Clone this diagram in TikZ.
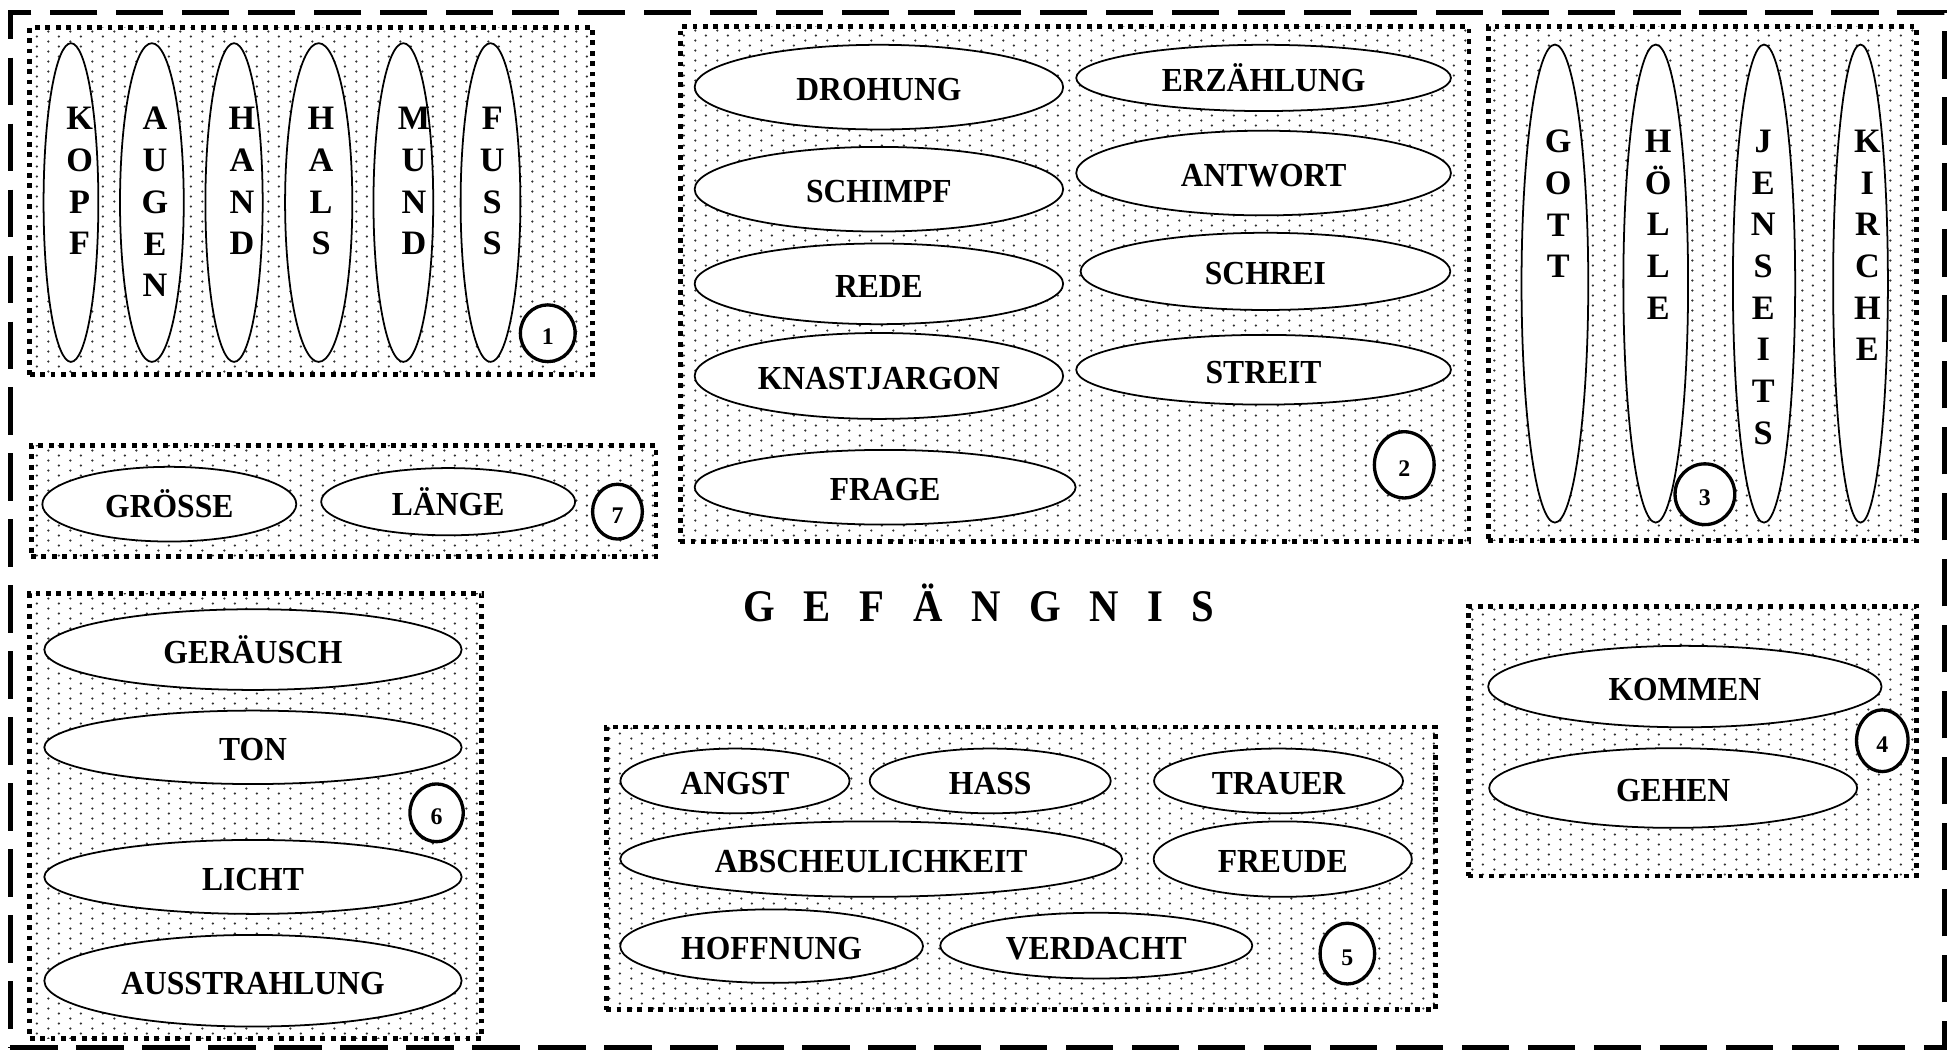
\documentclass[tikz,border=0pt]{standalone}
\usepackage{fontspec}
\usetikzlibrary{shapes.geometric,patterns}
\newfontfamily\labfamily[FakeStretch=0.94]{Liberation Serif}
\newfontfamily\vfamily{Liberation Serif}
\newfontfamily\titlefamily[FakeStretch=0.9]{Liberation Serif}

\pgfdeclarepatternformonly{stip}{\pgfpointorigin}{\pgfpoint{10.4pt}{4.8pt}}{\pgfpoint{10.4pt}{4.8pt}}{%
  \pgfpathcircle{\pgfpoint{2.6pt}{1.2pt}}{0.6pt}%
  \pgfpathcircle{\pgfpoint{7.8pt}{3.6pt}}{0.6pt}%
  \pgfusepath{fill}}

\newcommand\tg{\hspace{13.8pt}}
% box: name, x1, y1, x2, y2
\newcommand\grp[5]{\node[grpbox, minimum width={(#4-#2)*0.6pt}, minimum height={(#5-#3)*0.6pt}] (#1) at ({(#2+#4)/2},{(#3+#5)/2}) {};}
% ellipse: name, cx, cy, rx, ry, text
\newcommand\ovl[6]{\node[oval, minimum width={2*#4*0.6pt}, minimum height={2*#5*0.6pt}] (#1) at (#2,#3) {#6};}
% number circle: name, cx, cy, rx, ry, digit
\newcommand\numc[6]{\node[numcirc, minimum width={2*#4*0.6pt}, minimum height={2*#5*0.6pt}] (#1) at (#2,#3) {#6};}

\begin{document}
\begin{tikzpicture}[x=0.6pt,y=-0.6pt,
  frame/.style={draw, line width=2.4pt, dash pattern=on 22.8pt off 9pt, inner sep=0, outer sep=0},
  grpbox/.style={draw, line width=2.3pt, dash pattern=on 2.3pt off 2.7pt, pattern=stip, pattern color=black!80, inner sep=0, outer sep=0},
  oval/.style={ellipse, draw, fill=white, line width=0.85pt, inner sep=0,
    font={\labfamily\bfseries\fontsize{16.2}{19}\selectfont}, text height=13.1pt, text depth=0pt},
  numcirc/.style={ellipse, draw, fill=white, line width=1.6pt, inner sep=0,
    font={\vfamily\bfseries\fontsize{11.5}{13}\selectfont}, text height=11pt, text depth=0pt},
  vtxt/.style={align=center, inner sep=0, anchor=north,
    font={\vfamily\bfseries\fontsize{16.5}{20.1}\selectfont}},
  titletxt/.style={inner sep=0, anchor=base, font={\titlefamily\bfseries\fontsize{21.8}{24}\selectfont}}
]
\useasboundingbox (0,0) rectangle (1568,844);

% outer frame
\node[frame, minimum width={1553.6*0.6pt}, minimum height={831.5*0.6pt}] (prison) at (785.2,425.75) {};

% group boxes
\grp{box1}{24}{22}{476}{301}
\grp{box2}{546.5}{21.6}{1180}{435}
\grp{box3}{1195.4}{21.5}{1539.5}{434}
\grp{box4}{1179.4}{487.3}{1539.5}{703.6}
\grp{box5}{487}{584}{1153}{811}
\grp{box6}{24}{476.6}{387}{834}
\grp{box7}{25}{358}{527}{447}

% box 1: body parts
\ovl{kopf}{57}{162.7}{22}{128}{}
\ovl{augen}{122}{162.7}{25.6}{128}{}
\ovl{hand}{188}{162.7}{23}{128}{}
\ovl{hals}{256}{162.7}{27}{128}{}
\ovl{mund}{324}{162.7}{24}{128}{}
\ovl{fuss}{394}{162.7}{24}{128}{}
\node[vtxt] (kopft) at (64,85.9) {K\\O\\P\\F};
\node[vtxt] (augent) at (124.5,85.9) {A\\U\\G\\E\\N};
\node[vtxt] (handt) at (194.3,85.9) {H\\A\\N\\D};
\node[vtxt] (halst) at (257.9,85.9) {H\\A\\L\\S};
\node[vtxt] (mundt) at (332.5,85.9) {M\\U\\N\\D};
\node[vtxt] (fusst) at (395.4,85.9) {F\\U\\S\\S};
\numc{num1}{440}{267.7}{22}{22.8}{1}

% box 2: speech
\ovl{drohung}{706}{70}{148}{34}{DROHUNG}
\ovl{erzaehlung}{1015}{62.6}{150.5}{26.6}{ERZÄHLUNG}
\ovl{schimpf}{706}{152}{148}{34}{SCHIMPF}
\ovl{antwort}{1015}{139}{150.5}{34}{ANTWORT}
\ovl{rede}{706}{228}{148}{32.4}{REDE}
\ovl{schrei}{1016.5}{218}{148.5}{31}{SCHREI}
\ovl{knast}{706}{302}{148}{34.5}{KNASTJARGON}
\ovl{streit}{1015}{297}{150.5}{28}{STREIT}
\ovl{frage}{711}{391.4}{153}{30}{FRAGE}
\numc{num2}{1128}{373.4}{24}{26.6}{2}

% box 3: religion
\ovl{gott}{1249}{227.8}{26.8}{192}{}
\ovl{hoelle}{1330}{227.8}{26}{192}{}
\ovl{jenseits}{1417}{227.8}{25}{192}{}
\ovl{kirche}{1494.5}{227.8}{22}{192}{}
\node[vtxt] (gottt) at (1251.7,104.1) {G\\O\\T\\T};
\node[vtxt] (hoellet) at (1332,104.1) {H\\Ö\\L\\L\\E};
\node[vtxt] (jenseitst) at (1416.3,104.1) {J\\E\\N\\S\\E\\I\\T\\S};
\node[vtxt] (kirchet) at (1500,104.1) {K\\I\\R\\C\\H\\E};
\numc{num3}{1369.5}{397}{24}{24.4}{3}

% box 4: movement
\ovl{kommen}{1353.4}{551.5}{158}{32.7}{KOMMEN}
\ovl{gehen}{1344}{633}{147.8}{32}{GEHEN}
\numc{num4}{1512}{595}{20.7}{24.8}{4}

% box 5: feelings
\ovl{angst}{590.4}{627.3}{92}{26}{ANGST}
\ovl{hass}{795.4}{627.3}{96.8}{26}{HASS}
\ovl{trauer}{1027}{627.3}{100}{26}{TRAUER}
\ovl{abscheu}{699.8}{690.1}{201.6}{30.3}{ABSCHEULICHKEIT}
\ovl{freude}{1030.4}{690.1}{103.7}{30.3}{FREUDE}
\ovl{hoffnung}{619.8}{760}{121.6}{29.5}{HOFFNUNG}
\ovl{verdacht}{880.6}{759.6}{125.3}{26.4}{VERDACHT}
\numc{num5}{1082.3}{766}{21.9}{24.4}{5}

% box 6: perception
\ovl{geraeusch}{203.2}{521.8}{167.6}{32.4}{GERÄUSCH}
\ovl{ton}{203.2}{600.3}{167.6}{29.5}{TON}
\ovl{licht}{203.2}{704.4}{167.6}{29.7}{LICHT}
\ovl{ausstrahlung}{203.2}{787.8}{167.6}{36.8}{AUSSTRAHLUNG}
\numc{num6}{350.7}{652.9}{21.4}{23.2}{6}

% box 7: dimensions
\ovl{groesse}{136}{405}{102}{30}{GRÖSSE}
\ovl{laenge}{360}{403}{102}{27}{LÄNGE}
\numc{num7}{496}{411}{20}{22}{7}

% title
\node[titletxt] (title) at (786.5,499.3) {G\tg E\tg F\tg Ä\tg N\tg G\tg N\tg I\tg S};
\end{tikzpicture}
\end{document}
